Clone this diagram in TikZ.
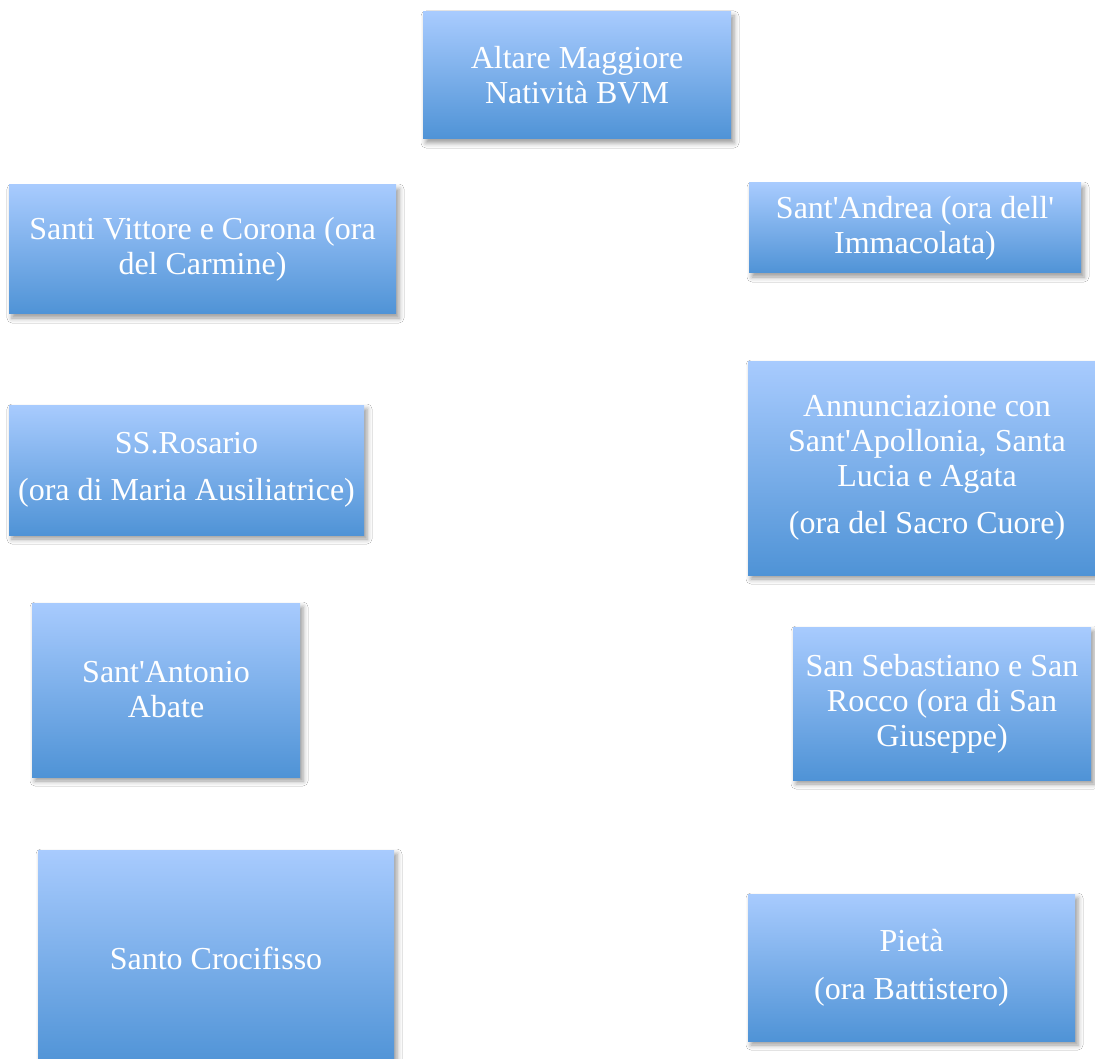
\documentclass[tikz,border=0pt]{standalone}
\usepackage{fontspec}
\setmainfont{Liberation Serif}
\usetikzlibrary{shadows.blur}
\definecolor{boxtop}{HTML}{A8CBFE}
\definecolor{boxbottom}{HTML}{4F93D6}
\newcommand{\apos}{\textquotesingle}
\tikzset{
  altarbox/.style={
    rectangle, inner sep=0pt, align=center, text=white,
    font=\fontsize{32}{35}\selectfont,
    top color=boxtop, bottom color=boxbottom, draw=none,
    blur shadow={shadow xshift=3pt, shadow yshift=-4pt,
                 shadow blur radius=5pt, shadow opacity=40}
  }
}
\begin{document}
\begin{tikzpicture}[x=1pt,y=-1pt]
  \useasboundingbox[fill=white] (0,0) rectangle (1095,1059);

  \node[altarbox, minimum width=308pt, minimum height=127pt] (altare)
    at (577,75.5) {Altare Maggiore\\Natività BVM};

  \node[altarbox, minimum width=387pt, minimum height=129pt] (vittore)
    at (202.5,249.5) {Santi Vittore e Corona (ora\\del Carmine)};

  \node[altarbox, minimum width=332pt, minimum height=90pt] (andrea)
    at (915,228) {Sant\apos Andrea (ora dell\apos\\Immacolata)};

  \node[altarbox, minimum width=355pt, minimum height=130pt] (rosario)
    at (186.5,470) {SS.Rosario\\[12pt](ora di Maria Ausiliatrice)};

  \node[altarbox, minimum width=358pt, minimum height=214pt] (annunciazione)
    at (927,468) {Annunciazione con\\Sant\apos Apollonia, Santa\\Lucia e Agata\\[12pt](ora del Sacro Cuore)};

  \node[altarbox, minimum width=268pt, minimum height=174pt] (antonio)
    at (166,690) {Sant\apos Antonio\\Abate};

  \node[altarbox, minimum width=298pt, minimum height=153pt] (sebastiano)
    at (942,703.5) {San Sebastiano e San\\Rocco (ora di San\\Giuseppe)};

  \node[altarbox, minimum width=356pt, minimum height=216pt] (crocifisso)
    at (216,958) {Santo Crocifisso};

  \node[altarbox, minimum width=327pt, minimum height=147pt] (pieta)
    at (911.5,967.5) {Pietà\\[13pt](ora Battistero)};
\end{tikzpicture}
\end{document}
